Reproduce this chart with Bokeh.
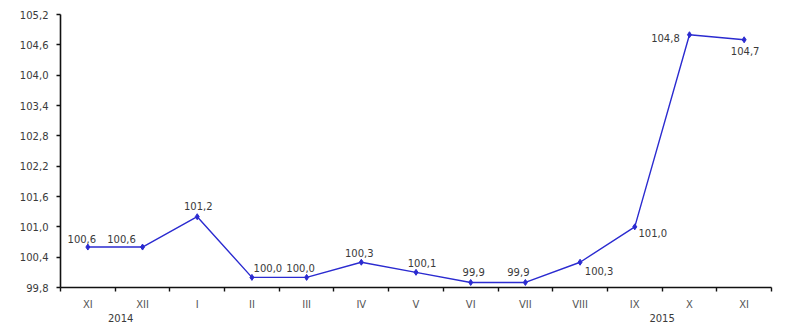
from bokeh.plotting import figure
from bokeh.models import (ColumnDataSource, FixedTicker, LinearAxis, Range1d,
                          CustomJSTickFormatter)
from bokeh.core.properties import value
from bokeh.embed import file_html
from bokeh.resources import INLINE

# ---- data ----
months = ["XI", "XII", "I", "II", "III", "IV", "V", "VI", "VII", "VIII", "IX", "X", "XI"]
values = [100.6, 100.6, 101.2, 100.0, 100.0, 100.3, 100.1, 99.9, 99.9, 100.3, 101.0, 104.8, 104.7]
value_labels = ["100,6", "100,6", "101,2", "100,0", "100,0", "100,3", "100,1",
                "99,9", "99,9", "100,3", "101,0", "104,8", "104,7"]
years = ["2014", "2015"]
year_positions = [1.1, 11.0]          # on the category-boundary scale
y_ticks = [99.8, 100.4, 101.0, 101.6, 102.2, 102.8, 103.4, 104.0, 104.6, 105.2]

# label placement (screen pixels, relative to the point)
label_dx = [-6, -21, 1, 16, -6, -2, 6, 3, -7, 19, 18, -24, 1]
label_dy = [-8, -8, -11, -9, -9, -9, -9, -10, -10, 9, 6, 3, 11]

FONT = "DejaVu Sans"
x_centers = [i + 0.5 for i in range(len(months))]

src = ColumnDataSource(dict(x=x_centers, y=values, lab=value_labels,
                            dx=label_dx, dy=label_dy))

p = figure(width=800, height=330, output_backend="svg", toolbar_location=None,
           x_range=Range1d(0, len(months)), y_range=Range1d(y_ticks[0], y_ticks[-1]),
           x_axis_type=None, y_axis_type=None)
p.min_border_left = 60
p.min_border_right = 29
p.min_border_top = 14
p.min_border_bottom = 43
p.outline_line_color = None
p.xgrid.visible = False
p.ygrid.visible = False
p.background_fill_color = "white"
p.border_fill_color = "white"

# y axis
yax = LinearAxis(ticker=FixedTicker(ticks=y_ticks, minor_ticks=[]))
yax.formatter = CustomJSTickFormatter(code="return tick.toFixed(1).replace('.', ',');")
yax.axis_line_color = "#111111"
yax.axis_line_width = 1.6
yax.major_tick_line_color = "#111111"
yax.major_tick_line_width = 1.4
yax.major_tick_in = 0
yax.major_tick_out = 4
yax.major_label_standoff = 8
yax.major_label_text_font = FONT
yax.major_label_text_font_size = "10px"
yax.major_label_text_color = "#3a3a3a"
p.add_layout(yax, "left")

# x axis (month labels at centers, tick marks at boundaries)
xax = LinearAxis(ticker=FixedTicker(ticks=x_centers,
                                    minor_ticks=list(range(len(months) + 1))))
xax.major_label_overrides = {xc: m for xc, m in zip(x_centers, months)}
xax.axis_line_color = "#111111"
xax.axis_line_width = 1.6
xax.major_tick_line_color = None
xax.major_tick_out = 0
xax.major_tick_in = 0
xax.minor_tick_line_color = "#111111"
xax.minor_tick_line_width = 1.4
xax.minor_tick_in = 0
xax.minor_tick_out = 4
xax.major_label_standoff = 7
xax.major_label_text_font = FONT
xax.major_label_text_font_size = "10px"
xax.major_label_text_color = "#555555"
p.add_layout(xax, "below")

# year axis
yrax = LinearAxis(ticker=FixedTicker(ticks=year_positions, minor_ticks=[]))
yrax.major_label_overrides = {pos: yr for pos, yr in zip(year_positions, years)}
yrax.axis_line_color = None
yrax.major_tick_line_color = None
yrax.major_tick_out = 0
yrax.major_tick_in = 0
yrax.major_label_standoff = 1
yrax.major_label_text_font = FONT
yrax.major_label_text_font_size = "10px"
yrax.major_label_text_color = "#3a3a3a"
p.add_layout(yrax, "below")

LINE = "#2b2bd0"
p.line("x", "y", source=src, line_color=LINE, line_width=1.4)
p.scatter("x", "y", source=src, marker="diamond", size=6,
          fill_color=LINE, line_color=LINE)
p.text("x", "y", text="lab", source=src, x_offset="dx", y_offset="dy",
       text_align="center", text_baseline="middle",
       text_font=value(FONT), text_font_size="10px", text_color="#3a3a3a")

open("out.html", "w").write(file_html(p, INLINE))
